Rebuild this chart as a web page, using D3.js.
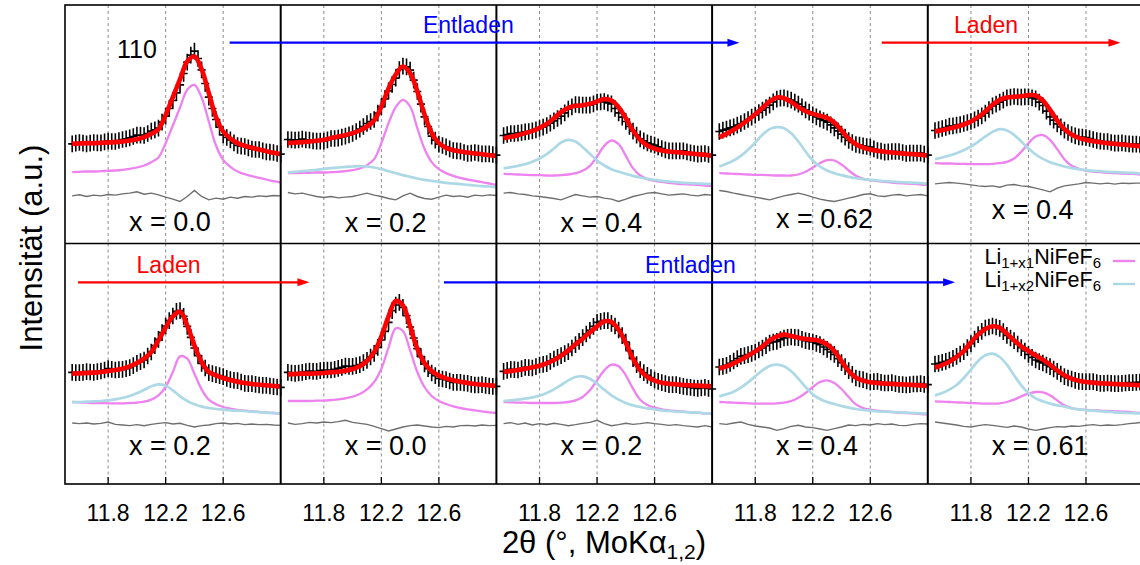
<!DOCTYPE html>
<html><head><meta charset="utf-8">
<script src="https://cdn.jsdelivr.net/npm/d3@7"></script>
<style>body{margin:0;background:#fff} svg text{font-family:"Liberation Sans",Arial,Helvetica,sans-serif}</style>
</head><body><svg id="chart" width="1140" height="565"></svg>
<script>
// ---------- data ----------
const angles = [11.55,11.60,11.65,11.70,11.75,11.80,11.85,11.90,11.95,12.00,12.05,12.10,12.15,12.20,12.25,12.30,12.35,12.40,12.45,12.50,12.55,12.60,12.65,12.70,12.75,12.80,12.85,12.90,12.95,13.00];
const obsAngles = [11.550,11.575,11.600,11.625,11.650,11.675,11.700,11.725,11.750,11.775,11.800,11.825,11.850,11.875,11.900,11.925,11.950,11.975,12.000,12.025,12.050,12.075,12.100,12.125,12.150,12.175,12.200,12.225,12.250,12.275,12.300,12.325,12.350,12.375,12.400,12.425,12.450,12.475,12.500,12.525,12.550,12.575,12.600,12.625,12.650,12.675,12.700,12.725,12.750,12.775,12.800,12.825,12.850,12.875,12.900,12.925,12.950,12.975,13.000];
const xTicks = [11.8, 12.2, 12.6];
const compositions = ["x = 0.0","x = 0.2","x = 0.4","x = 0.62","x = 0.4","x = 0.2","x = 0.0","x = 0.2","x = 0.4","x = 0.61"];
const sigma = 25;

// panel a: x = 0.0
const obsA = [299,301,303,301,299,301,303,302,302,305,307,306,306,309,312,314,317,321,325,325,324,330,337,341,346,364,382,405,429,452,476,510,544,565,577,555,521,480,439,405,372,349,326,318,311,302,294,292,291,287,283,282,282,278,275,274,273,270,268];
const fitA = [299,300,301,301,302,303,304,306,309,313,319,329,343,386,439,493,546,561,523,451,379,336,315,301,293,287,282,277,272,268];
const ph1A = [214,215,216,216,217,218,219,221,224,228,234,244,258,301,354,408,461,476,438,366,294,251,230,216,208,202,197,192,187,183];
const diffA = [143,146,141,145,143,147,145,149,151,155,148,151,146,139,133,126,141,159,141,131,136,133,139,136,141,139,143,141,144,143];
// panel b: x = 0.2
const obsB = [312,311,310,311,313,311,310,308,307,307,307,311,315,315,316,319,322,326,330,336,343,351,360,366,372,391,410,434,458,477,496,522,532,530,520,490,456,418,380,351,322,310,298,294,290,284,279,278,277,273,270,271,273,271,269,269,269,267,265];
const fitB = [301,303,304,306,308,311,316,321,325,331,339,351,369,411,465,507,531,511,457,387,331,301,287,280,276,273,270,268,265,263];
const ph1B = [211,211,212,212,213,213,214,215,217,220,225,235,253,301,361,409,431,411,346,284,244,223,211,203,197,192,188,184,180,176];
const ph2B = [213,215,217,219,221,224,226,228,230,231,232,231,228,223,217,211,205,200,195,191,188,185,182,180,178,176,174,172,171,169];
const diffB = [153,149,151,146,141,138,141,137,139,141,146,151,145,141,135,131,143,151,141,135,133,139,145,141,143,139,145,143,146,144];
// panel c: x = 0.4
const obsC = [324,327,330,330,331,333,335,336,338,341,345,349,354,361,368,375,382,392,403,410,417,416,415,415,415,419,424,425,426,422,419,405,392,379,366,351,337,325,314,308,302,298,295,290,285,281,278,278,278,278,278,275,272,270,268,269,270,267,265];
const fitC = [316,320,325,331,338,347,359,376,394,407,413,415,419,426,433,429,409,376,339,311,294,285,279,276,274,272,270,268,266,263];
const ph1C = [209,208,207,206,205,205,204,204,205,207,211,218,233,261,293,309,298,263,226,204,193,188,185,182,180,178,177,176,174,173];
const ph2C = [226,229,233,238,245,255,268,285,303,311,306,289,269,249,234,223,215,209,203,198,194,191,188,186,184,182,181,180,179,178];
const diffC = [151,153,149,147,143,141,138,135,131,139,147,143,139,141,136,133,126,133,141,146,151,153,149,145,147,149,145,143,147,145];
// panel d: x = 0.62
const obsD = [336,340,343,347,350,355,360,366,372,379,385,393,400,408,415,425,433,436,437,434,430,424,418,410,401,394,386,380,374,369,364,356,347,338,328,319,309,303,297,295,293,291,289,284,279,277,274,275,276,276,276,273,270,271,271,271,271,268,265];
const fitD = [319,329,341,355,371,388,407,426,438,436,425,409,397,389,383,377,363,339,315,298,288,282,278,275,273,271,269,268,266,264];
const ph1D = [211,210,209,208,207,206,206,205,204,204,204,207,215,228,241,250,249,237,219,203,194,190,187,185,183,181,180,179,177,176];
const ph2D = [231,239,249,263,281,303,326,343,349,346,331,306,276,249,231,219,211,205,200,196,193,191,189,187,186,184,183,182,181,179];
const diffD = [159,156,151,147,143,139,135,131,137,143,147,151,146,139,133,129,126,131,136,141,147,149,143,141,145,147,143,145,147,143];
// panel e: x = 0.4
const obsE = [339,342,345,348,352,353,355,357,360,363,366,371,376,383,391,402,413,418,424,430,437,439,441,440,439,440,440,437,434,424,414,397,380,370,359,350,340,333,327,323,320,319,318,315,312,309,307,306,306,303,301,301,302,300,299,298,298,297,296];
const fitE = [336,340,345,350,357,366,379,396,416,431,438,440,442,445,444,429,401,369,343,327,317,311,307,304,301,299,297,295,293,291];
const ph1E = [241,240,240,239,239,238,238,238,239,241,245,255,275,301,321,325,311,283,253,233,224,219,216,214,212,211,210,209,208,206];
const ph2E = [253,258,264,271,280,291,305,321,335,343,339,326,306,285,267,254,244,237,231,226,223,220,218,217,215,214,213,212,211,209];
const diffE = [179,181,183,181,179,176,173,171,173,169,175,177,173,171,166,161,155,166,173,176,179,183,181,179,181,178,181,180,181,181];
// panel f: x = 0.2
const obsF = [335,334,334,335,337,336,335,337,339,342,346,344,342,343,344,346,349,355,362,367,372,384,396,415,434,454,474,490,504,518,520,503,473,440,408,385,362,348,334,331,328,325,322,317,313,311,310,306,302,301,301,299,297,296,296,294,292,291,290];
const fitF = [331,332,333,334,336,339,342,346,353,363,376,396,431,469,503,517,476,416,366,336,326,318,312,307,303,300,298,296,294,293];
const ph1F = [246,245,244,243,243,242,242,242,243,244,247,253,266,291,336,383,376,331,284,253,239,231,226,222,220,218,216,214,213,211];
const ph2F = [246,246,247,248,249,251,254,258,264,272,282,293,299,295,281,263,249,239,232,228,225,223,221,220,219,217,216,214,213,211];
const diffF = [183,181,183,180,182,186,179,177,175,178,175,179,182,184,180,182,176,171,175,177,181,183,180,182,178,180,178,179,177,176];
// panel g: x = 0.0
const obsG = [335,333,332,333,335,337,339,338,338,340,342,342,342,344,347,350,354,353,353,355,358,364,371,381,392,410,432,458,485,520,537,545,530,505,471,438,406,382,360,346,333,325,317,315,313,309,305,305,305,303,302,299,297,297,298,296,294,293,293];
const fitG = [329,330,331,331,332,333,335,337,340,345,353,369,396,443,503,549,536,473,406,363,339,325,317,311,307,303,300,298,296,294];
const ph1G = [249,249,249,249,250,250,252,254,257,262,270,284,306,346,409,467,459,401,336,291,264,249,240,233,228,224,221,218,215,213];
const diffG = [183,179,181,185,183,186,184,187,191,185,182,179,173,166,159,165,171,175,177,174,171,169,173,171,175,176,174,177,175,176];
// panel h: x = 0.2
const obsH = [338,341,344,343,342,346,350,349,348,352,357,359,361,368,375,380,385,391,397,408,418,428,439,450,461,473,485,488,490,490,482,474,462,445,426,400,376,358,343,334,326,319,312,308,304,301,298,298,298,295,293,291,290,288,287,288,290,287,285];
const fitH = [336,339,342,346,350,355,362,372,385,401,419,436,455,473,488,486,463,423,376,341,321,310,304,301,299,297,296,295,294,293];
const ph1H = [246,245,244,244,243,243,243,243,244,246,251,261,281,311,341,358,353,326,286,253,237,229,224,221,219,217,215,214,212,211];
const ph2H = [249,251,253,256,260,265,273,284,297,311,321,323,316,301,283,266,253,243,236,231,227,224,221,219,217,216,215,214,212,211];
const diffH = [181,184,179,183,177,181,178,182,179,175,178,182,185,191,181,175,178,182,179,181,184,181,179,176,178,175,173,171,175,171];
// panel i: x = 0.4
const obsI = [351,353,356,362,369,376,383,385,388,392,396,402,408,415,423,426,428,433,438,440,441,440,439,434,430,428,426,422,418,411,404,396,389,376,364,352,340,329,318,315,313,309,306,307,308,305,303,303,304,301,299,298,297,298,300,300,301,299,298];
const fitI = [346,353,362,373,385,398,413,431,443,448,444,439,435,433,429,419,399,369,339,319,310,305,303,301,300,299,298,297,296,294];
const ph1I = [246,245,244,243,242,241,241,241,242,244,249,259,273,291,306,311,303,285,261,239,228,223,220,218,216,214,213,212,210,209];
const ph2I = [263,269,277,289,305,323,341,354,358,353,338,316,291,269,255,246,240,234,229,225,222,220,218,217,216,215,214,213,212,211];
const diffI = [181,179,183,186,179,174,171,168,161,166,173,176,171,169,165,161,166,171,177,175,179,177,181,178,180,176,175,179,181,180];
// panel j: x = 0.61
const obsJ = [360,362,365,368,372,377,383,390,397,409,421,435,448,458,468,471,474,471,467,457,446,438,430,420,409,399,389,380,372,367,363,357,352,345,338,330,322,318,315,311,308,307,307,307,307,304,302,302,303,302,301,301,302,303,304,304,305,306,307];
const fitJ = [349,357,367,381,399,425,448,465,473,469,451,431,413,399,386,373,358,341,326,316,310,306,304,302,301,300,299,298,297,296];
const ph1J = [248,247,246,245,244,243,242,241,241,242,246,253,263,271,276,275,266,251,236,228,224,222,221,220,219,218,217,216,214,213];
const ph2J = [266,273,283,297,318,343,369,386,391,381,358,326,296,273,257,248,241,236,232,227,224,222,220,218,217,215,214,213,212,211];
const diffJ = [186,183,180,177,173,171,175,178,176,173,170,174,171,165,161,165,169,172,171,174,173,176,178,175,177,176,178,181,183,186];

const panels = [
  {obs: obsA, fit: fitA, ph1: ph1A, ph2: null, diff: diffA},
  {obs: obsB, fit: fitB, ph1: ph1B, ph2: ph2B, diff: diffB},
  {obs: obsC, fit: fitC, ph1: ph1C, ph2: ph2C, diff: diffC},
  {obs: obsD, fit: fitD, ph1: ph1D, ph2: ph2D, diff: diffD},
  {obs: obsE, fit: fitE, ph1: ph1E, ph2: ph2E, diff: diffE},
  {obs: obsF, fit: fitF, ph1: ph1F, ph2: ph2F, diff: diffF},
  {obs: obsG, fit: fitG, ph1: ph1G, ph2: null, diff: diffG},
  {obs: obsH, fit: fitH, ph1: ph1H, ph2: ph2H, diff: diffH},
  {obs: obsI, fit: fitI, ph1: ph1I, ph2: ph2I, diff: diffI},
  {obs: obsJ, fit: fitJ, ph1: ph1J, ph2: ph2J, diff: diffJ}
];
const arrows = [
  {row: 0, from: [0, 12.645], to: [3, 11.69], color: "#0000ff", label: "Entladen", labelAt: [1, 12.805]},
  {row: 0, from: [3, 12.68], to: [4, 12.84], color: "#ff0000", label: "Laden", labelAt: [4, 11.905]},
  {row: 1, from: [0, 11.59], to: [1, 11.70], color: "#ff0000", label: "Laden", labelAt: [0, 12.22]},
  {row: 1, from: [1, 12.635], to: [4, 11.69], color: "#0000ff", label: "Entladen", labelAt: [2, 12.85]}
];

// ---------- layout ----------
const L = 65, PW = 215.7;
const rowTop = [5, 243.5], rowBottom = [243.5, 484];
const labelBase = [230.5, 231.5, 231.5, 228, 218.5, 455, 455, 455, 455, 455];
const arrowY = [42.7, 282.3], arrowLabelY = [33.3, 273.3];
const COL = {fit: "#ff0000", ph1: "#ee82ee", ph2: "#add8e6", diff: "#6e6e6e"};

const svg = d3.select("#chart");
const xScale = c => d3.scaleLinear().domain([11.5, 13.0]).range([L + c * PW, L + (c + 1) * PW]);
const yScale = r => d3.scaleLinear().domain([0, 720]).range([rowBottom[r], rowBottom[r] - 240]);
const smooth = d3.curveCatmullRom.alpha(0.5);

panels.forEach((p, i) => {
  const row = Math.floor(i / 5), col = i % 5;
  const x = xScale(col), y = yScale(row);
  const g = svg.append("g");
  // dashed grid
  g.selectAll("line.grid").data(xTicks).join("line")
    .attr("x1", d => x(d)).attr("x2", d => x(d))
    .attr("y1", rowTop[row]).attr("y2", rowBottom[row])
    .attr("stroke", "#8c8c8c").attr("stroke-width", 1).attr("stroke-dasharray", "3,3");
  const line = d3.line().x((d, k) => x(angles[k])).y(d => y(d)).curve(smooth);
  g.append("path").attr("d", line(p.ph1)).attr("fill", "none").attr("stroke", COL.ph1).attr("stroke-width", 2.3);
  if (p.ph2) g.append("path").attr("d", line(p.ph2)).attr("fill", "none").attr("stroke", COL.ph2).attr("stroke-width", 2.7);
  const dline = d3.line().x((d, k) => x(angles[k])).y(d => y(d));
  g.append("path").attr("d", dline(p.diff)).attr("fill", "none").attr("stroke", COL.diff).attr("stroke-width", 1.4);
  // observed points with error bars
  let s = "";
  p.obs.forEach((v, k) => {
    const cx = x(obsAngles[k]), cy = y(v);
    s += `M${cx},${y(v - sigma)}V${y(v + sigma)}M${x(obsAngles[k] - 0.028)},${cy}H${x(obsAngles[k] + 0.028)}`;
  });
  g.append("path").attr("d", s).attr("fill", "none").attr("stroke", "#000").attr("stroke-width", 1.6);
  g.append("path").attr("d", line(p.fit)).attr("fill", "none").attr("stroke", COL.fit).attr("stroke-width", 4.6).attr("stroke-linejoin", "round");
  // composition label
  g.append("text").attr("x", L + col * PW + 64).attr("y", labelBase[i])
    .attr("font-size", 27).attr("fill", "#000").text(compositions[i]);
  // bottom ticks
  if (row === 1) {
    g.selectAll("line.tk").data(xTicks).join("line")
      .attr("x1", d => x(d)).attr("x2", d => x(d))
      .attr("y1", rowBottom[1]).attr("y2", rowBottom[1] - 7)
      .attr("stroke", "#000").attr("stroke-width", 1.3);
    g.selectAll("text.tl").data(xTicks).join("text")
      .attr("x", d => x(d)).attr("y", 521).attr("text-anchor", "middle")
      .attr("font-size", 23).text(d => d.toFixed(1));
  }
});

// frame
const R = L + 5 * PW;
svg.append("rect").attr("x", L).attr("y", rowTop[0]).attr("width", R - L).attr("height", rowBottom[1] - rowTop[0])
  .attr("fill", "none").attr("stroke", "#000").attr("stroke-width", 1.6);
svg.append("line").attr("x1", L).attr("x2", R).attr("y1", rowBottom[0]).attr("y2", rowBottom[0]).attr("stroke", "#000").attr("stroke-width", 1.6);
for (let c = 1; c < 5; c++) {
  svg.append("line").attr("x1", L + c * PW).attr("x2", L + c * PW).attr("y1", rowTop[0]).attr("y2", rowBottom[1])
    .attr("stroke", "#000").attr("stroke-width", 2);
}

// arrows
arrows.forEach(a => {
  const x1 = xScale(a.from[0])(a.from[1]), x2 = xScale(a.to[0])(a.to[1]), yy = arrowY[a.row];
  svg.append("line").attr("x1", x1).attr("x2", x2 - 8).attr("y1", yy).attr("y2", yy).attr("stroke", a.color).attr("stroke-width", 2.2);
  svg.append("path").attr("d", `M${x2},${yy}L${x2 - 12},${yy - 4}L${x2 - 12},${yy + 4}Z`).attr("fill", a.color);
  svg.append("text").attr("x", xScale(a.labelAt[0])(a.labelAt[1])).attr("y", arrowLabelY[a.row])
    .attr("text-anchor", "middle").attr("font-size", 23).attr("fill", a.color).text(a.label);
});

// reflection label
svg.append("text").attr("x", 117).attr("y", 58).attr("font-size", 25).text("110");

// legend
const legend = [{sub: "1+x1", color: COL.ph1, y: 264}, {sub: "1+x2", color: COL.ph2, y: 287}];
legend.forEach(d => {
  const t = svg.append("text").attr("x", 1101).attr("y", d.y).attr("text-anchor", "end").attr("font-size", 21.5);
  t.append("tspan").text("Li");
  t.append("tspan").attr("dy", 4).attr("font-size", 15).text(d.sub);
  t.append("tspan").attr("dy", -4).text("NiFeF");
  t.append("tspan").attr("dy", 4).attr("font-size", 15).text("6");
  svg.append("line").attr("x1", 1113).attr("x2", 1135).attr("y1", d.y - 3).attr("y2", d.y - 3)
    .attr("stroke", d.color).attr("stroke-width", 2.4);
});

// axis titles
const xt = svg.append("text").attr("x", 604).attr("y", 553).attr("text-anchor", "middle").attr("font-size", 31);
xt.append("tspan").text("2θ (°, MoKα");
xt.append("tspan").attr("dy", 6).attr("font-size", 21).text("1,2");
xt.append("tspan").attr("dy", -6).text(")");
svg.append("text").attr("transform", "translate(42,248) rotate(-90)").attr("text-anchor", "middle")
  .attr("font-size", 31).text("Intensität (a.u.)");
</script></body></html>
